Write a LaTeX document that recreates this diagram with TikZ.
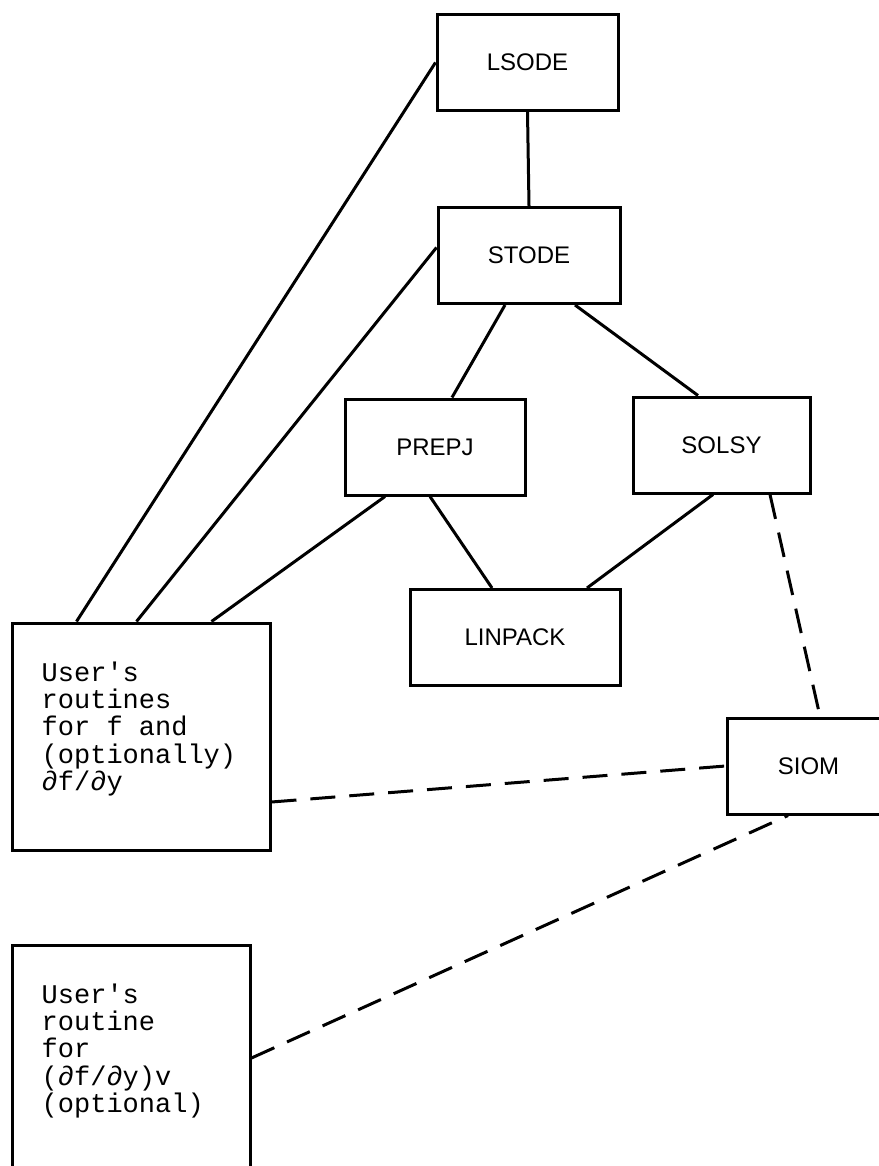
\documentclass[tikz,border=0pt]{standalone}
\usepackage{fontspec}
\setmainfont{Liberation Sans}
\setmonofont{Liberation Mono}
\usetikzlibrary{positioning}

\begin{document}
\begin{tikzpicture}[
  x=1pt,y=-1pt,
  block/.style={draw,line width=3pt,minimum width=#1,minimum height=96pt,inner sep=0pt,
    font=\fontsize{24}{28}\selectfont},
  block/.default=181pt,
  userbox/.style={draw,line width=3pt,minimum width=258pt,inner sep=0pt},
  usertext/.style={inner sep=0pt,align=left,font=\fontsize{27}{27.3}\selectfont\ttfamily},
  link/.style={line width=3pt},
  optlink/.style={line width=3pt,dash pattern=on 25pt off 14pt}
]
  \useasboundingbox (0,0) rectangle (878,1166);

  \node[block] (lsode) at (527.5,62.5) {LSODE};
  \node[block=182pt] (stode) at (529,255.5) {STODE};
  \node[block=180pt] (prepj) at (435,447) {PREPJ};
  \node[block=177pt] (solsy) at (721.5,445) {SOLSY};
  \node[block=210pt] (linpack) at (515,637.5) {LINPACK};
  \node[block=163pt] (siom) at (808.5,766) {SIOM};

  \node[userbox,minimum height=227pt] (user1) at (141,736.5) {};
  \node[usertext,below right=40pt and 31pt of user1.north west] (user1txt)
    {User's\\routines\\for f and\\(optionally)\\∂f/∂y};
  \node[userbox,minimum width=238pt,minimum height=255pt] (user2) at (131,1072.5) {};
  \node[usertext,below right=40pt and 31pt of user2.north west] (user2txt)
    {User's\\routine\\for\\(∂f/∂y)v\\(optional)};

  \draw[link] (lsode.south) -- (stode.north);
  \draw[link] ([xshift=-24pt]stode.south) -- ([xshift=17pt]prepj.north);
  \draw[link] ([xshift=46pt]stode.south) -- ([xshift=-23.5pt]solsy.north);
  \draw[link] ([xshift=-5pt]prepj.south) -- ([xshift=-23pt]linpack.north);
  \draw[link] ([xshift=-8.5pt]solsy.south) -- ([xshift=72pt]linpack.north);
  \draw[link] (lsode.west) -- ([xshift=66pt]user1.north west);
  \draw[link] ([yshift=8pt]stode.west) -- ([xshift=126pt]user1.north west);
  \draw[link] ([xshift=-50pt]prepj.south) -- ([xshift=201pt]user1.north west);

  \draw[optlink] ([xshift=48.5pt]solsy.south) -- ([xshift=11.5pt]siom.north);
  \draw[optlink] ([yshift=-65.5pt]user1.east) -- (siom.west);
  \draw[optlink] ([yshift=14.5pt]user2.east) -- ([xshift=-20.5pt]siom.south);
\end{tikzpicture}
\end{document}
